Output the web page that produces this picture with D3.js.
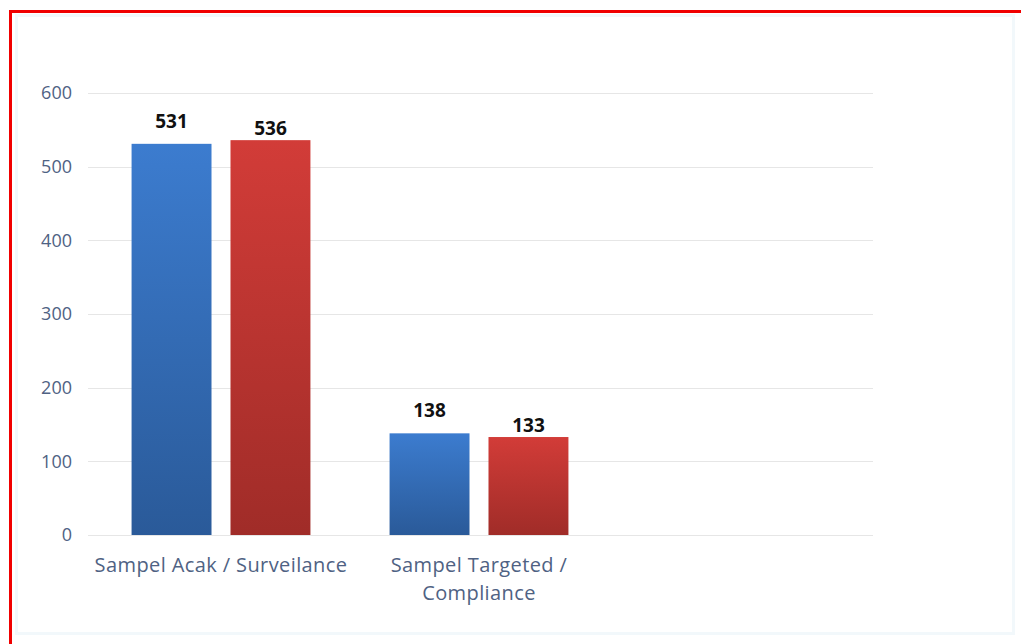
<!DOCTYPE html>
<html>
<head>
<meta charset="utf-8">
<script src="https://cdn.jsdelivr.net/npm/d3@7"></script>
<style>
  body { margin: 0; background: #fff; }
  svg text { font-family: 'Open Sans', 'Noto Sans', sans-serif; }
</style>
</head>
<body>
<script>
let categories = ['Sampel Acak / Surveilance', 'Sampel Targeted / Compliance', '']
let categoryLines = [['Sampel Acak / Surveilance'], ['Sampel Targeted /', 'Compliance'], []]
let seriesNames = ['Seri 1', 'Seri 2']
let blueValues = [531, 138]
let redValues = [536, 133]
let yTicks = [0, 100, 200, 300, 400, 500, 600]

let W = 1021, H = 644
let margin = { top: 93, bottom: 109, left: 88, right: 148 }
let width = W - margin.left - margin.right
let height = H - margin.top - margin.bottom

let svg = d3.select('body')
    .append('svg')
        .attr('width', W)
        .attr('height', H)

let defs = svg.append('defs')
let gradBlue = defs.append('linearGradient')
    .attr('id', 'gBlue').attr('x1', 0).attr('y1', 0).attr('x2', 0).attr('y2', 1)
gradBlue.append('stop').attr('offset', '0%').attr('stop-color', '#3c7ccf')
gradBlue.append('stop').attr('offset', '100%').attr('stop-color', '#2a5a99')
let gradRed = defs.append('linearGradient')
    .attr('id', 'gRed').attr('x1', 0).attr('y1', 0).attr('x2', 0).attr('y2', 1)
gradRed.append('stop').attr('offset', '0%').attr('stop-color', '#d23c38')
gradRed.append('stop').attr('offset', '100%').attr('stop-color', '#a02c28')

// red frame of the screenshot
svg.append('rect')
    .attr('x', 10.5).attr('y', 11.5)
    .attr('width', W).attr('height', H)
    .attr('fill', 'none')
    .attr('stroke', '#f00000')
    .attr('stroke-width', 3)
svg.append('rect')
    .attr('x', 16.5).attr('y', 15.5)
    .attr('width', W - 24).attr('height', H - 26)
    .attr('fill', 'none')
    .attr('stroke', '#f2f8fb')
    .attr('stroke-width', 3)

let g = svg.append('g')
    .attr('transform', 'translate(' + margin.left + ',' + margin.top + ')')

let x = d3.scaleBand()
    .domain(categories)
    .range([4, width - 7])

let xInner = d3.scaleBand()
    .domain(seriesNames)
    .range([0, x.bandwidth()])
    .paddingInner(0.192)
    .paddingOuter(0.4)

let y = d3.scaleLinear()
    .domain([0, 600])
    .range([height, 0])

// gridlines
g.append('g')
    .selectAll('line')
    .data(yTicks)
    .enter()
    .append('line')
        .attr('x1', 0)
        .attr('x2', width)
        .attr('y1', d => Math.round(y(d)) + 0.5)
        .attr('y2', d => Math.round(y(d)) + 0.5)
        .attr('stroke', '#e6e6e6')
        .attr('stroke-width', 1)

// y axis labels
let yAxis = d3.axisLeft(y).tickValues(yTicks).tickSize(0).tickPadding(16)
g.append('g')
    .call(yAxis)
    .call(s => s.select('.domain').remove())
    .selectAll('text')
        .attr('fill', '#4f6283')
        .attr('font-size', 18)

let rows = categories.map((c, i) => ({
    cat: c,
    vals: i < blueValues.length ? [blueValues[i], redValues[i]] : []
}))

let groups = g.selectAll('.grp')
    .data(rows)
    .enter()
    .append('g')
        .attr('class', 'grp')
        .attr('transform', d => 'translate(' + x(d.cat) + ',0)')

groups.selectAll('rect')
    .data(d => d.vals.map((v, j) => ({ name: seriesNames[j], v: v })))
    .enter()
    .append('rect')
        .attr('x', d => xInner(d.name))
        .attr('y', d => y(d.v))
        .attr('width', xInner.bandwidth())
        .attr('height', d => y(0) - y(d.v))
        .attr('fill', (d, j) => j === 0 ? 'url(#gBlue)' : 'url(#gRed)')

groups.selectAll('.lbl')
    .data(d => d.vals.map((v, j) => ({ name: seriesNames[j], v: v, j: j })))
    .enter()
    .append('text')
        .attr('class', 'lbl')
        .attr('x', d => xInner(d.name) + xInner.bandwidth() / 2)
        .attr('y', d => y(d.v) - (d.j === 0 ? 16 : 5))
        .attr('text-anchor', 'middle')
        .attr('font-size', 19)
        .attr('font-weight', 'bold')
        .attr('fill', '#111')
        .text(d => d.v)

// category labels
groups.each(function(d, i) {
    let t = d3.select(this).append('text')
        .attr('text-anchor', 'middle')
        .attr('font-size', 20)
        .attr('letter-spacing', 0.4)
        .attr('fill', '#4f6283')
    categoryLines[i].forEach((line, k) => {
        t.append('tspan')
            .attr('x', x.bandwidth() / 2)
            .attr('y', height + 37 + k * 28)
            .text(line)
    })
})
</script>
</body>
</html>
